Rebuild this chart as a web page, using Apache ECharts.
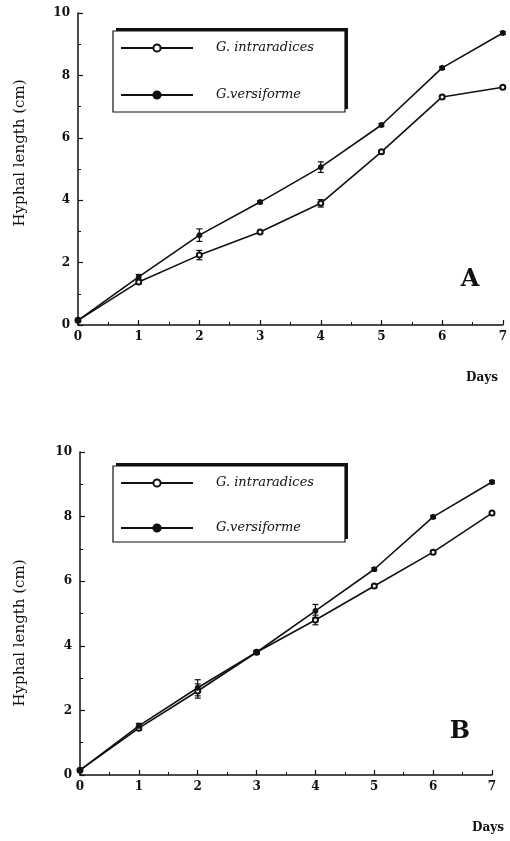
<!DOCTYPE html>
<html>
<head>
<meta charset="utf-8">
<script src="https://cdn.jsdelivr.net/npm/echarts@6/dist/echarts.min.js"></script>
<style>
html, body { margin: 0; padding: 0; background: #fff; }
#chart { width: 510px; height: 841px; }
</style>
</head>
<body>
<div id="chart"></div>
<script>
// Hyphal length over time, panel A and panel B
const days = [0, 1, 2, 3, 4, 5, 6, 7];
const seriesNames = ['G. intraradices', 'G.versiforme'];

// Panel A
const intraA = [0.15, 1.38, 2.24, 2.98, 3.90, 5.55, 7.31, 7.62];
const intraErrA = [0.04, 0.06, 0.15, 0.05, 0.12, 0.05, 0.05, 0.05];
const versiA = [0.15, 1.54, 2.88, 3.94, 5.06, 6.41, 8.24, 9.36];
const versiErrA = [0.04, 0.08, 0.20, 0.05, 0.17, 0.05, 0.05, 0.05];

// Panel B
const intraB = [0.15, 1.45, 2.60, 3.80, 4.80, 5.85, 6.90, 8.11];
const intraErrB = [0.04, 0.06, 0.22, 0.05, 0.15, 0.05, 0.05, 0.05];
const versiB = [0.15, 1.52, 2.70, 3.80, 5.08, 6.37, 7.99, 9.07];
const versiErrB = [0.04, 0.08, 0.25, 0.05, 0.20, 0.05, 0.05, 0.05];

const ink = '#111';
const serif = 'DejaVu Serif';

const chart = echarts.init(document.getElementById('chart'));

function xAxisFor(gridIndex) {
    return {
        type: 'value', gridIndex: gridIndex,
        min: 0, max: 7, interval: 1,
        axisLine: { lineStyle: { color: ink, width: 1.5 } },
        axisTick: { inside: true, length: 5, lineStyle: { color: ink, width: 1.2 } },
        minorTick: { show: true, splitNumber: 2, length: 3, lineStyle: { color: ink } },
        splitLine: { show: false },
        axisLabel: { color: ink, fontFamily: serif, fontWeight: 'bold', fontSize: 12, margin: 6 }
    };
}

function yAxisFor(gridIndex) {
    return {
        type: 'value', gridIndex: gridIndex,
        min: 0, max: 10, interval: 2,
        axisLine: { show: true, lineStyle: { color: ink, width: 1.5 } },
        axisTick: { show: true, inside: true, length: 5, lineStyle: { color: ink, width: 1.2 } },
        minorTick: { show: true, splitNumber: 2, length: 3, lineStyle: { color: ink } },
        splitLine: { show: false },
        axisLabel: { color: ink, fontFamily: serif, fontWeight: 'bold', fontSize: 12, margin: 8 }
    };
}

function lineSeries(name, values, idx, open) {
    return {
        type: 'line', name: name,
        xAxisIndex: idx, yAxisIndex: idx,
        data: days.map((d, i) => [d, values[i]]),
        symbol: open ? 'emptyCircle' : 'circle',
        symbolSize: 5,
        lineStyle: { color: ink, width: 1.6 },
        itemStyle: { color: ink, borderColor: ink, borderWidth: 1 },
        z: 4
    };
}

// error bars drawn as a custom series
function errorSeries(name, values, errs, idx) {
    return {
        type: 'custom', name: name + ' SE',
        xAxisIndex: idx, yAxisIndex: idx,
        silent: true, z: 3,
        data: days.map((d, i) => [d, values[i] - errs[i], values[i] + errs[i]]),
        renderItem: function (params, api) {
            const lo = api.coord([api.value(0), api.value(1)]);
            const hi = api.coord([api.value(0), api.value(2)]);
            const w = 3;
            const st = { stroke: ink, lineWidth: 1.2 };
            return {
                type: 'group',
                children: [
                    { type: 'line', shape: { x1: hi[0], y1: hi[1], x2: lo[0], y2: lo[1] }, style: st },
                    { type: 'line', shape: { x1: hi[0] - w, y1: hi[1], x2: hi[0] + w, y2: hi[1] }, style: st },
                    { type: 'line', shape: { x1: lo[0] - w, y1: lo[1], x2: lo[0] + w, y2: lo[1] }, style: st }
                ]
            };
        }
    };
}

function legendFor(top, gap, bottomPad) {
    return {
        data: seriesNames,
        orient: 'vertical',
        left: 113, top: top,
        itemWidth: 72, itemHeight: 9,
        itemGap: gap,
        padding: [9, 31, bottomPad, 7],
        backgroundColor: '#fff',
        borderColor: ink, borderWidth: 1.2,
        selectedMode: false,
        textStyle: {
            color: ink, fontFamily: serif, fontStyle: 'italic',
            fontSize: 13, lineHeight: 16, padding: [0, 0, 0, 18]
        }
    };
}

// heavy top/right edge of the legend frames
function frameShadow(x, y, w, h) {
    return { type: 'rect', z: 1, shape: { x: x, y: y, width: w, height: h }, style: { fill: ink } };
}

function label(text, x, y, size) {
    return {
        type: 'text', x: x, y: y,
        style: {
            text: text, fill: ink, fontFamily: serif, fontWeight: 'bold',
            fontSize: size, align: 'center', verticalAlign: 'middle'
        }
    };
}

function axisTitle(y) {
    return {
        type: 'text', x: 20, y: y, rotation: Math.PI / 2,
        style: { text: 'Hyphal length (cm)', fill: ink, fontFamily: serif, fontSize: 15, align: 'center', verticalAlign: 'middle' }
    };
}

const option = {
    backgroundColor: '#fff',
    animation: false,
    grid: [
        { left: 78, top: 13, width: 428, height: 312 },
        { left: 80, top: 452, width: 412, height: 323 }
    ],
    xAxis: [xAxisFor(0), xAxisFor(1)],
    yAxis: [yAxisFor(0), yAxisFor(1)],
    legend: [legendFor(31, 31, 9), legendFor(466, 29, 6)],
    graphic: [
        frameShadow(116, 28, 232, 81),
        frameShadow(116, 463, 232, 76),
        label('A', 470, 280, 24),
        label('B', 460, 732, 24),
        label('Days', 482, 378, 12),
        label('Days', 488, 828, 12),
        axisTitle(153),
        axisTitle(633)
    ],
    series: [
        lineSeries(seriesNames[0], intraA, 0, true),
        lineSeries(seriesNames[1], versiA, 0, false),
        errorSeries(seriesNames[0], intraA, intraErrA, 0),
        errorSeries(seriesNames[1], versiA, versiErrA, 0),
        lineSeries(seriesNames[0], intraB, 1, true),
        lineSeries(seriesNames[1], versiB, 1, false),
        errorSeries(seriesNames[0], intraB, intraErrB, 1),
        errorSeries(seriesNames[1], versiB, versiErrB, 1)
    ]
};

chart.setOption(option);
</script>
</body>
</html>
